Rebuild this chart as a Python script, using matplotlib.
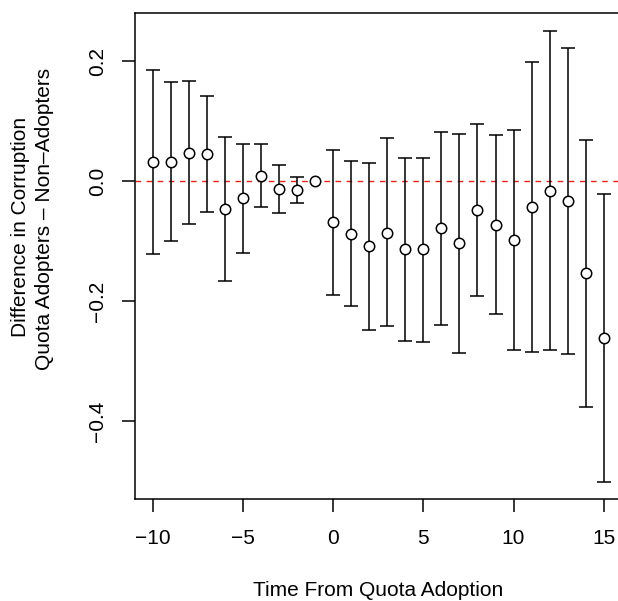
import numpy as np
import matplotlib
matplotlib.use("Agg")
from matplotlib import pyplot as plt

plt.rcParams['font.family'] = ['Liberation Sans', 'DejaVu Sans']

# time from quota adoption
tempo = list(range(-10, 16))

# point estimates
estimativa = [0.032, 0.032, 0.047, 0.045, -0.047, -0.029, 0.009, -0.014, -0.015, 0.0,
              -0.069, -0.088, -0.109, -0.086, -0.114, -0.114, -0.079, -0.104, -0.048,
              -0.073, -0.098, -0.044, -0.016, -0.033, -0.154, -0.261]

# upper and lower bounds of the intervals
superior = [0.185, 0.165, 0.166, 0.142, 0.073, 0.062, 0.062, 0.026, 0.007, 0.0,
            0.051, 0.033, 0.030, 0.071, 0.039, 0.039, 0.082, 0.078, 0.095,
            0.076, 0.085, 0.198, 0.250, 0.222, 0.068, -0.021]
inferior = [-0.121, -0.100, -0.071, -0.052, -0.167, -0.120, -0.043, -0.053, -0.036, 0.0,
            -0.190, -0.209, -0.249, -0.242, -0.267, -0.269, -0.240, -0.287, -0.191,
            -0.221, -0.281, -0.285, -0.281, -0.288, -0.376, -0.501]

W, H = 618, 601
fig = plt.figure(figsize=(W / 100, H / 100), dpi=100)
# plot box (right edge runs off the picture, as in the reference)
ax = fig.add_axes([135 / W, 1 - 499 / H, (621.7 - 135) / W, (499 - 13.3) / H])

t = np.array(tempo)
est = np.array(estimativa)
sup = np.array(superior)
inf = np.array(inferior)
tem_barra = sup > inf

ax.axhline(0, color='#e8231f', linestyle=(0, (4, 4)), linewidth=1.0, zorder=1)
ax.errorbar(t[tem_barra], est[tem_barra],
            yerr=[est[tem_barra] - inf[tem_barra], sup[tem_barra] - est[tem_barra]],
            fmt='none', ecolor='black', elinewidth=1.1, capsize=5.3, capthick=1.1, zorder=2)
ax.plot(t, est, 'o', markersize=7.5, markerfacecolor='white', markeredgecolor='black',
        markeredgewidth=1.1, zorder=3)

ax.set_xlim(-11, 16)
ax.set_ylim(-0.53, 0.2795)

for lado in ['top', 'right', 'left', 'bottom']:
    ax.spines[lado].set_linewidth(1.1)

ax.set_xticks([-10, -5, 0, 5, 10, 15])
ax.set_xticklabels(['\u221210', '\u22125', '0', '5', '10', '15'])
ax.set_yticks([0.2, 0.0, -0.2, -0.4])
ax.set_yticklabels(['0.2', '0.0', '\u22120.2', '\u22120.4'], rotation=90, va='center')
ax.tick_params(axis='both', direction='out', length=9.4, width=1.1, labelsize=15)
ax.tick_params(axis='x', pad=12.5)
ax.tick_params(axis='y', pad=11)

fig.text(378 / W, 1 - 590 / H, 'Time From Quota Adoption', ha='center', va='center', fontsize=15)
fig.text(21 / W, 1 - 227 / H, 'Difference in Corruption', rotation=90,
         ha='center', va='center', fontsize=15)
fig.text(45 / W, 1 - 219 / H, 'Quota Adopters \u2013 Non\u2013Adopters', rotation=90,
         ha='center', va='center', fontsize=15)

fig.savefig('out.png', dpi=100)
